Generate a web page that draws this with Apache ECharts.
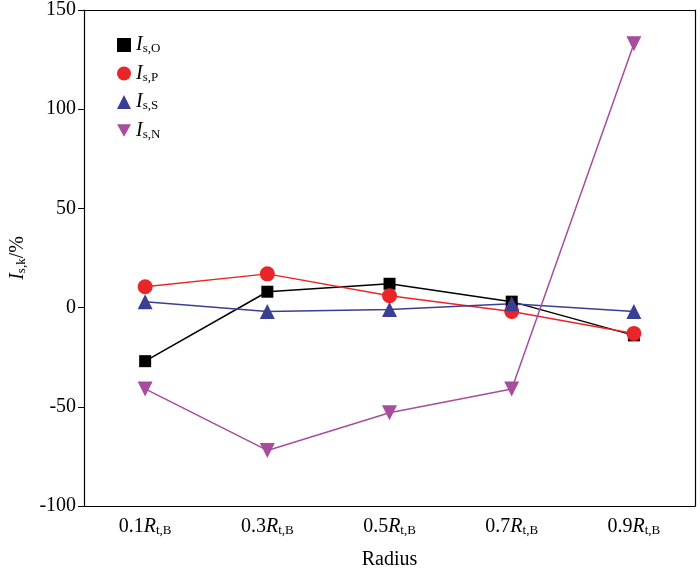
<!DOCTYPE html>
<html>
<head>
<meta charset="utf-8">
<script src="https://cdn.jsdelivr.net/npm/echarts@6/dist/echarts.min.js"></script>
<style>html,body{margin:0;padding:0;background:#fff}#chart{width:700px;height:575px}</style>
</head>
<body>
<div id="chart"></div>
<script>
// 数据
const categories = ['0.1', '0.3', '0.5', '0.7', '0.9'];
const isO = [-27, 8, 12, 3, -14];
const isP = [10.5, 17, 6, -2, -13];
const isS = [3, -2, -1, 2, -2];
const isN = [-41, -72, -53, -41, 133];
const seriesNames = ['O', 'P', 'S', 'N'];
const colors = ['#000000', '#e8262a', '#3a3f94', '#a64d9e'];
const symbols = ['rect', 'circle', 'triangle', 'path://M0,0 L10,0 L5,9 Z'];

const font = 'Liberation Serif';
const rich = {
    it: { fontFamily: font, fontStyle: 'italic', fontSize: 20, color: '#000' },
    sub: { fontFamily: font, fontSize: 13, color: '#000', verticalAlign: 'bottom', padding: [8, 0, 0, 0] },
    n: { fontFamily: font, fontSize: 20, color: '#000' }
};

const chart = echarts.init(document.getElementById('chart'));
const data = [isO, isP, isS, isN];
const axisLine = { show: true, onZero: false, lineStyle: { color: '#000', width: 1.2 } };
chart.setOption({
    animation: false,
    grid: { left: 78, right: 5, top: 10, bottom: 65 },
    legend: {
        orient: 'vertical', left: 112, top: 30, itemGap: 8,
        itemWidth: 14, itemHeight: 14,
        data: seriesNames.map((n, i) => ({ name: n, icon: symbols[i] })),
        formatter: n => '{it|I}{sub|s,' + n + '}',
        textStyle: { rich: rich }
    },
    xAxis: [{
        type: 'category', data: categories, boundaryGap: true,
        axisLine: axisLine,
        axisTick: { alignWithLabel: true, inside: true, length: 6, lineStyle: { color: '#000' } },
        axisLabel: { interval: 0, formatter: v => '{n|' + v + '}{it|R}{sub|t,B}', rich: rich, margin: 10 },
        name: 'Radius', nameLocation: 'middle', nameGap: 44,
        nameTextStyle: { fontFamily: font, fontSize: 20, color: '#000' }
    }, {
        type: 'category', data: categories, position: 'top',
        axisLine: axisLine,
        axisTick: { show: false }, axisLabel: { show: false }
    }],
    yAxis: [{
        type: 'value', min: -100, max: 150, interval: 50,
        splitLine: { show: false },
        axisLine: axisLine,
        axisTick: { show: true, inside: false, length: 6, lineStyle: { color: '#000' } },
        axisLabel: { fontFamily: font, fontSize: 20, color: '#000' },
        name: '{it|I}{sub|s,k}{n|/%}', nameLocation: 'middle', nameGap: 50,
        nameTextStyle: { rich: rich }
    }, {
        type: 'value', min: -100, max: 150, interval: 50, position: 'right',
        splitLine: { show: false },
        axisLine: axisLine,
        axisTick: { show: false }, axisLabel: { show: false }
    }],
    series: seriesNames.map((n, i) => ({
        name: n, type: 'line', data: data[i],
        symbol: symbols[i], symbolSize: i === 0 ? 12 : 15,
        lineStyle: { color: colors[i], width: 1.5 },
        itemStyle: { color: colors[i] }
    }))
});
</script>
</body>
</html>
